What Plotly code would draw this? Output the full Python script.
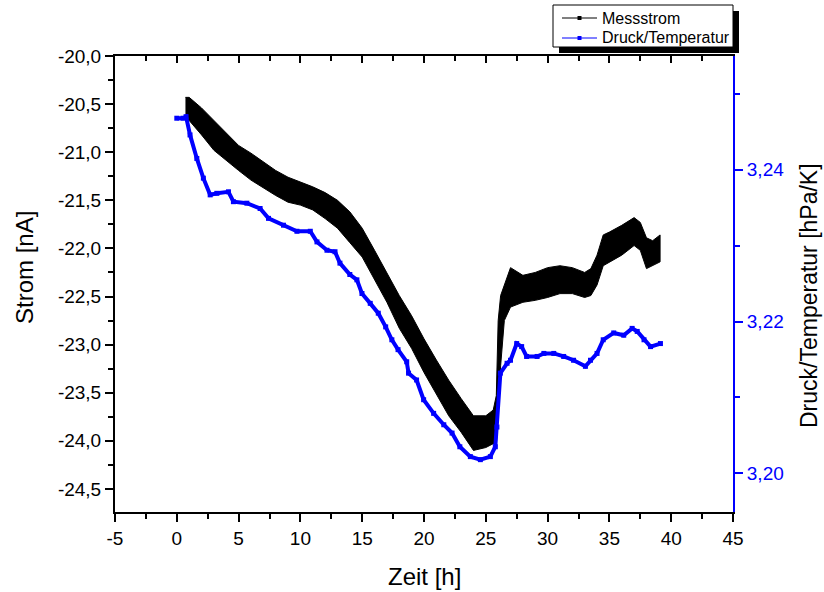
import plotly.graph_objects as go

# ---- data ----
zeit_strom = [0.7, 1.0, 2.0, 3.0, 4.0, 5.0, 6.0, 7.0, 8.0, 9.0, 10.0, 11.0, 12.0, 13.0,
              14.0, 15.0, 16.0, 17.0, 18.0, 19.0, 20.0, 21.0, 22.0, 23.0, 24.0, 25.0,
              25.6, 25.85, 26.0, 26.2, 26.5, 27.0, 28.0, 29.0, 30.0, 31.0, 32.0, 33.0,
              33.5, 34.0, 34.5, 35.0, 36.0, 37.0, 37.5, 38.0, 38.5, 39.1]
strom_oben = [-20.43, -20.43, -20.54, -20.67, -20.79, -20.93, -21.01, -21.10, -21.19, -21.26,
              -21.31, -21.36, -21.42, -21.50, -21.62, -21.79, -22.02, -22.25, -22.49, -22.70,
              -22.94, -23.16, -23.37, -23.56, -23.74, -23.74, -23.68, -23.53, -22.75, -22.49,
              -22.38, -22.20, -22.28, -22.25, -22.20, -22.18, -22.20, -22.25, -22.21, -22.07,
              -21.86, -21.83, -21.76, -21.68, -21.73, -21.89, -21.92, -21.86]
strom_unten = [-20.67, -20.67, -20.82, -20.98, -21.08, -21.19, -21.29, -21.37, -21.45, -21.52,
               -21.55, -21.60, -21.69, -21.79, -21.94, -22.09, -22.33, -22.56, -22.83, -23.04,
               -23.29, -23.52, -23.74, -23.91, -24.10, -24.07, -24.03, -24.05, -23.79, -23.22,
               -22.75, -22.61, -22.56, -22.54, -22.51, -22.47, -22.47, -22.51, -22.49, -22.38,
               -22.18, -22.14, -22.07, -21.97, -22.02, -22.21, -22.18, -22.14]

zeit_druck = [0.0, 0.5, 0.75, 1.07, 1.62, 2.15, 2.7, 3.24, 4.18, 4.58, 5.67, 6.74, 7.42, 8.63,
              9.72, 10.8, 11.34, 12.15, 12.8, 13.2, 14.0, 14.57, 14.98, 15.65, 16.3, 16.9,
              17.4, 17.9, 18.6, 18.75, 19.4, 19.97, 20.78, 21.6, 22.27, 22.9, 23.75, 24.56,
              25.37, 25.77, 25.9, 26.18, 26.72, 27.0, 27.5, 27.9, 28.3, 29.15, 29.7, 30.5,
              31.3, 32.1, 33.06, 33.47, 34.0, 34.5, 35.35, 36.16, 36.84, 37.25, 37.8, 38.33,
              39.13]
druck_temp = [3.2468, 3.2468, 3.2470, 3.2446, 3.2415, 3.2389, 3.2367, 3.2369, 3.2371, 3.2358,
              3.2356, 3.2349, 3.2336, 3.2327, 3.2319, 3.2319, 3.2305, 3.2294, 3.2292, 3.2277,
              3.2262, 3.2255, 3.2237, 3.2224, 3.2211, 3.2193, 3.2176, 3.2163, 3.2147, 3.2132,
              3.2123, 3.2097, 3.2079, 3.2064, 3.2053, 3.2035, 3.2022, 3.2018, 3.2022, 3.2035,
              3.2061, 3.2132, 3.2145, 3.2149, 3.2171, 3.2167, 3.2154, 3.2154, 3.2158, 3.2158,
              3.2154, 3.2149, 3.2141, 3.2149, 3.2158, 3.2176, 3.2185, 3.2182, 3.2191, 3.2187,
              3.2176, 3.2167, 3.2171]

x_tickvals = [-5, 0, 5, 10, 15, 20, 25, 30, 35, 40, 45]
x_ticktext = ["-5", "0", "5", "10", "15", "20", "25", "30", "35", "40", "45"]
y_tickvals = [-20.0, -20.5, -21.0, -21.5, -22.0, -22.5, -23.0, -23.5, -24.0, -24.5]
y_ticktext = ["-20,0", "-20,5", "-21,0", "-21,5", "-22,0", "-22,5", "-23,0", "-23,5",
              "-24,0", "-24,5"]
y2_tickvals = [3.20, 3.22, 3.24]
y2_ticktext = ["3,20", "3,22", "3,24"]
legend_names = ["Messstrom", "Druck/Temperatur"]

FONT = "Liberation Sans, Arial, sans-serif"
BLUE = "#0000FF"
W, H = 824, 592
ML, MR, MT, MB = 115, 91, 56, 80
PW, PH = W - ML - MR, H - MT - MB


def px(x):
    return (x - ML) / PW


def py(y):
    return (H - MB - y) / PH


fig = go.Figure()

# Messstrom noise band
fig.add_trace(go.Scatter(
    x=zeit_strom + zeit_strom[::-1],
    y=strom_oben + strom_unten[::-1],
    mode="lines", fill="toself", fillcolor="black",
    line=dict(color="black", width=1),
    showlegend=False, hoverinfo="skip", name=legend_names[0]))
# Druck/Temperatur
fig.add_trace(go.Scatter(x=zeit_druck, y=druck_temp, xaxis="x2", yaxis="y2",
                         mode="lines+markers", showlegend=False, name=legend_names[1],
                         line=dict(color=BLUE, width=4),
                         marker=dict(symbol="square", size=5, color=BLUE)))

axis_common = dict(showgrid=False, zeroline=False, showline=True, linewidth=2)

# hand-drawn legend box (Origin style with drop shadow)
shapes = [
    dict(type="rect", xref="paper", yref="paper", x0=px(559), x1=px(739), y0=py(53), y1=py(11),
         fillcolor="black", line=dict(width=0), layer="above"),
    dict(type="rect", xref="paper", yref="paper", x0=px(553), x1=px(733), y0=py(47), y1=py(5),
         fillcolor="white", line=dict(color="black", width=1), layer="above"),
]
annotations = []
for name, col, ycen in zip(legend_names, ["black", BLUE], [18, 38]):
    shapes.append(dict(type="line", xref="paper", yref="paper", x0=px(562), x1=px(597),
                       y0=py(ycen), y1=py(ycen), line=dict(color=col, width=1), layer="above"))
    shapes.append(dict(type="rect", xref="paper", yref="paper", x0=px(577.5), x1=px(581.5),
                       y0=py(ycen + 2), y1=py(ycen - 2), fillcolor=col,
                       line=dict(width=0), layer="above"))
    annotations.append(dict(text=name, xref="paper", yref="paper", x=px(600), y=py(ycen),
                            xanchor="left", yanchor="middle", showarrow=False,
                            font=dict(size=16, family=FONT, color="black")))

annotations += [
    dict(text="Strom [nA]", xref="paper", yref="paper", x=px(24), y=py(268),
         xanchor="center", yanchor="middle", textangle=-90, showarrow=False,
         font=dict(size=24, family=FONT, color="black")),
    dict(text="Druck/Temperatur [hPa/K]", xref="paper", yref="paper", x=px(809), y=py(296),
         xanchor="center", yanchor="middle", textangle=-90, showarrow=False,
         font=dict(size=23, family=FONT, color="black")),
    dict(text="Zeit [h]", xref="paper", yref="paper", x=px(424), y=py(576),
         xanchor="center", yanchor="middle", showarrow=False,
         font=dict(size=24, family=FONT, color="black")),
]

fig.update_layout(
    width=W, height=H,
    margin=dict(l=ML, r=MR, t=MT, b=MB),
    paper_bgcolor="white", plot_bgcolor="white",
    font=dict(family=FONT, color="black"),
    showlegend=False,
    xaxis=dict(range=[-5, 45], tickmode="array", tickvals=x_tickvals, ticktext=x_ticktext,
               ticks="outside", ticklen=8, tickwidth=2, tickcolor="black", linecolor="black",
               tickfont=dict(size=19),
               minor=dict(tickmode="linear", tick0=-5, dtick=2.5, ticks="outside", ticklen=5,
                          tickwidth=2, tickcolor="black"),
               **axis_common),
    xaxis2=dict(range=[-5, 45], overlaying="x", side="top", anchor="y",
                tickmode="array", tickvals=x_tickvals, showticklabels=False,
                ticks="inside", ticklen=7, tickwidth=2, tickcolor="black", linecolor="black",
                minor=dict(tickmode="linear", tick0=-5, dtick=2.5, ticks="inside", ticklen=5,
                           tickwidth=2, tickcolor="black"),
                **axis_common),
    yaxis=dict(range=[-24.74, -20.0], tickmode="array", tickvals=y_tickvals,
               ticktext=y_ticktext, ticks="outside", ticklen=8, tickwidth=2,
               tickcolor="black", linecolor="black", tickfont=dict(size=19),
               minor=dict(tickmode="linear", tick0=-20.0, dtick=0.25, ticks="outside",
                          ticklen=5, tickwidth=2, tickcolor="black"),
               **axis_common),
    yaxis2=dict(range=[3.1949, 3.2550], overlaying="y", side="right", anchor="x",
                tickmode="array", tickvals=y2_tickvals, ticktext=y2_ticktext,
                ticks="outside", ticklen=8, tickwidth=2, tickcolor=BLUE, linecolor=BLUE,
                tickfont=dict(size=19, color=BLUE),
                minor=dict(tickmode="linear", tick0=3.20, dtick=0.01, ticks="outside",
                           ticklen=5, tickwidth=2, tickcolor=BLUE),
                **axis_common),
    shapes=shapes,
    annotations=annotations,
)

fig.write_html("out.html")
